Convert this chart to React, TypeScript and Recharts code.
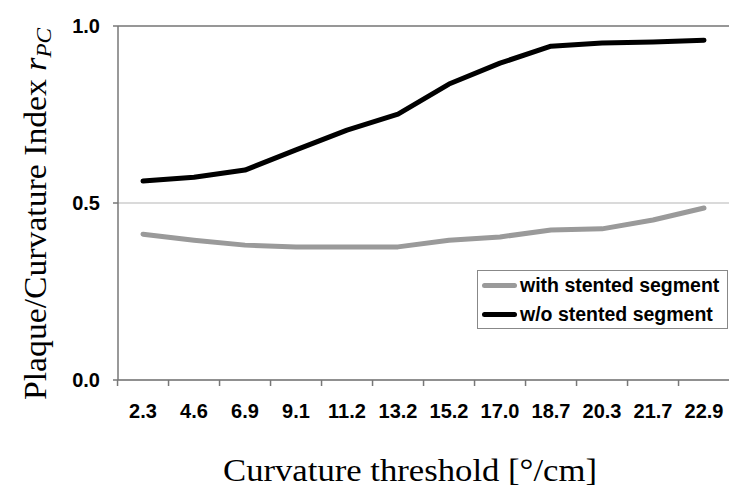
import React from "react";
import { LineChart, Line, XAxis, YAxis, CartesianGrid, ReferenceLine } from "recharts";

const thresholds = ["2.3", "4.6", "6.9", "9.1", "11.2", "13.2", "15.2", "17.0", "18.7", "20.3", "21.7", "22.9"];
const withStented = [0.412, 0.395, 0.381, 0.376, 0.376, 0.376, 0.395, 0.404, 0.424, 0.427, 0.452, 0.486];
const withoutStented = [0.562, 0.573, 0.593, 0.65, 0.706, 0.751, 0.836, 0.895, 0.943, 0.952, 0.955, 0.96];
const yTicks = [0, 0.5, 1];
const yMax = 1;
const seriesNames = ["with stented segment", "w/o stented segment"];
const seriesColors = ["#9a9a9a", "#000"];

const data = thresholds.map((t, i) => ({ t, a: withStented[i], b: withoutStented[i] }));

const XTick = (props: any) => {
  const { x, y, payload, width, visibleTicksCount } = props;
  const half = width / visibleTicksCount / 2;
  return (
    <g>
      <line x1={x - half} x2={x - half} y1={y - 8} y2={y - 2} stroke="#777" strokeWidth={1.5} />
      <text x={x} y={y + 30} textAnchor="middle" fontFamily="Liberation Sans, Arial" fontWeight="bold" fontSize={20} fill="#000">
        {payload.value}
      </text>
    </g>
  );
};

const YTick = (props: any) => {
  const { x, y, payload } = props;
  return (
    <text x={x - 11} y={y + 7} textAnchor="end" fontFamily="Liberation Sans, Arial" fontWeight="bold" fontSize={20} fill="#000">
      {payload.value.toFixed(1)}
    </text>
  );
};

const YLabel = () => (
  <text
    transform="translate(46, 214) rotate(-90)"
    textAnchor="middle"
    fontFamily="Liberation Serif, serif"
    fontSize={32}
    fill="#000"
    textLength={372}
    lengthAdjust="spacingAndGlyphs"
  >
    Plaque/Curvature Index{" "}
    <tspan fontStyle="italic">r</tspan>
    <tspan fontStyle="italic" fontSize={22} dy={5}>PC</tspan>
  </text>
);

const XLabel = () => (
  <text
    x={410}
    y={481}
    textAnchor="middle"
    fontFamily="Liberation Serif, serif"
    fontSize={32}
    fill="#000"
    textLength={374}
    lengthAdjust="spacingAndGlyphs"
  >
    Curvature threshold [°/cm]
  </text>
);

const LegendBox = () => (
  <div
    style={{
      position: "absolute",
      left: 477,
      top: 270,
      border: "1px solid #888",
      background: "#fff",
      width: 251,
      height: 59,
      boxSizing: "border-box",
      paddingLeft: 4,
      fontFamily: "Liberation Sans, Arial",
      fontWeight: "bold",
      fontSize: 19.5,
      lineHeight: "19px",
    }}
  >
    {seriesNames.map((n, i) => (
      <div key={n} style={{ display: "flex", alignItems: "center", height: 29 }}>
        <div style={{ width: 35, height: 5, borderRadius: 3, background: seriesColors[i], marginRight: 3 }} />
        <span style={{ whiteSpace: "nowrap" }}>{n}</span>
      </div>
    ))}
  </div>
);

export default function App() {
  return (
    <div style={{ position: "absolute", left: 0, top: 0, width: 734, height: 493, background: "#fff" }}>
      <LineChart width={734} height={493} data={data} margin={{ top: 26, right: 5, bottom: 0, left: 0 }}>
        <CartesianGrid vertical={false} stroke="#b5b5b5" strokeWidth={1.2} />
        <ReferenceLine y={yMax} stroke="#808080" strokeWidth={1.5} />
        <XAxis
          dataKey="t"
          height={113}
          interval={0}
          padding={{ left: 25, right: 25 }}
          axisLine={{ stroke: "#777", strokeWidth: 1.5 }}
          tickLine={false}
          tick={<XTick />}
          label={<XLabel />}
        />
        <YAxis
          width={118}
          domain={[0, 1]}
          ticks={yTicks}
          axisLine={{ stroke: "#777", strokeWidth: 1.5 }}
          tickLine={{ stroke: "#777", strokeWidth: 1.5 }}
          tickSize={5}
          tick={<YTick />}
          label={<YLabel />}
        />
        <Line dataKey="a" name={seriesNames[0]} stroke={seriesColors[0]} strokeWidth={5} dot={false} isAnimationActive={false} strokeLinecap="round" strokeLinejoin="round" />
        <Line dataKey="b" name={seriesNames[1]} stroke={seriesColors[1]} strokeWidth={5} dot={false} isAnimationActive={false} strokeLinecap="round" strokeLinejoin="round" />
      </LineChart>
      <LegendBox />
    </div>
  );
}
